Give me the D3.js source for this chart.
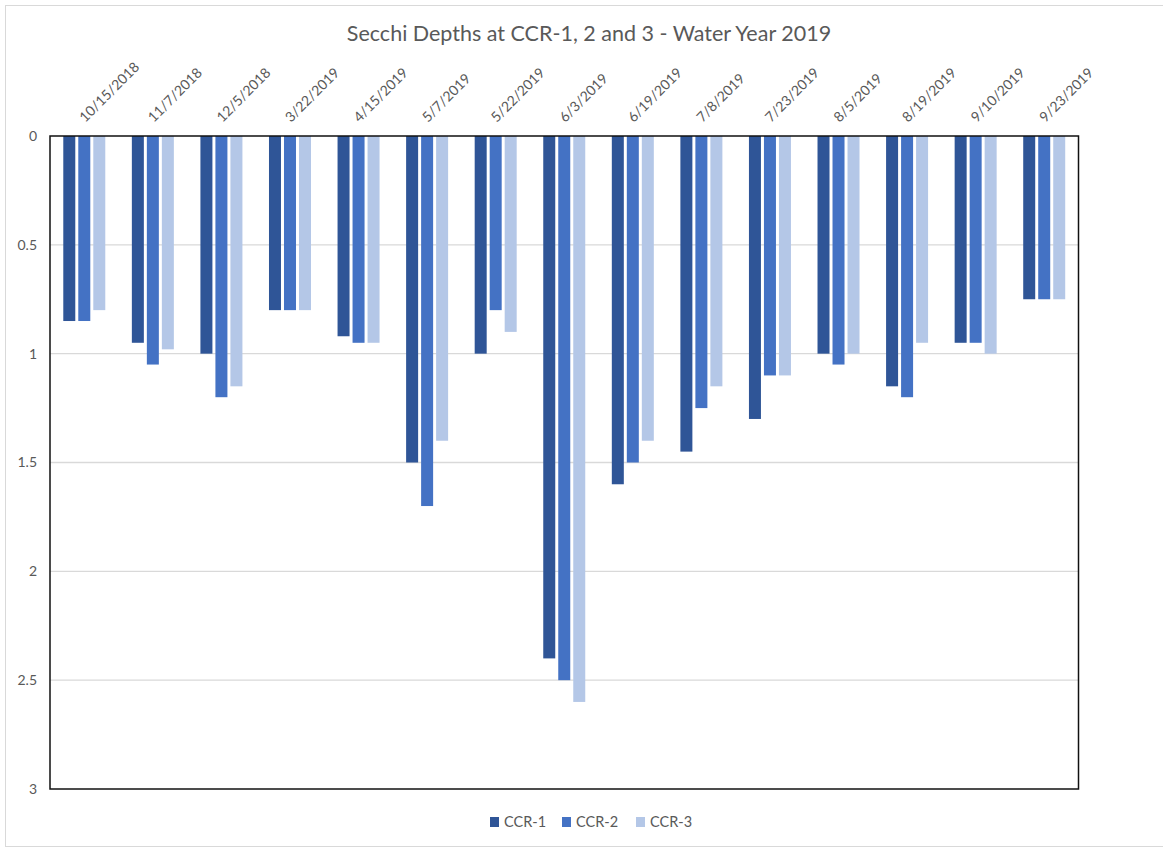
<!DOCTYPE html>
<html>
<head>
<meta charset="utf-8">
<script src="https://cdn.jsdelivr.net/npm/d3@7"></script>
<style>
  html, body { margin: 0; padding: 0; background: #fff; }
  svg { display: block; }
  text { font-family: Lato, "Open Sans", sans-serif; fill: #595959; }
</style>
</head>
<body>
<svg id="chart" width="1163" height="848"></svg>
<script>
const categories = ["10/15/2018","11/7/2018","12/5/2018","3/22/2019","4/15/2019","5/7/2019","5/22/2019","6/3/2019","6/19/2019","7/8/2019","7/23/2019","8/5/2019","8/19/2019","9/10/2019","9/23/2019"];
const seriesNames = ["CCR-1","CCR-2","CCR-3"];
const ccr1 = [0.85,0.95,1.00,0.80,0.92,1.50,1.00,2.40,1.60,1.45,1.30,1.00,1.15,0.95,0.75];
const ccr2 = [0.85,1.05,1.20,0.80,0.95,1.70,0.80,2.50,1.50,1.25,1.10,1.05,1.20,0.95,0.75];
const ccr3 = [0.80,0.98,1.15,0.80,0.95,1.40,0.90,2.60,1.40,1.15,1.10,1.00,0.95,1.00,0.75];
const yTicks = [0,0.5,1,1.5,2,2.5,3];
const colors = ["#2F5597","#4472C4","#B4C7E7"];
const title = "Secchi Depths at CCR-1, 2 and 3 - Water Year 2019";

const seriesValues = [ccr1, ccr2, ccr3];
const svg = d3.select("#chart");

// outer chart border
svg.append("rect").attr("x",5.5).attr("y",5.5).attr("width",1170).attr("height",841)
  .attr("fill","#fff").attr("stroke","#D9D9D9").attr("stroke-width",1);

const L = 50, R = 1078.5, T = 136, B = 789;
const y = d3.scaleLinear().domain([0,3]).range([T,B]);
const x0 = d3.scaleBand().domain(categories).range([L,R]).padding(0);
const x1 = d3.scaleBand().domain(seriesNames).range([0,42]).paddingInner(0.2);
const groupOffset = (x0.bandwidth() - 42) / 2;

// gridlines
svg.append("g").selectAll("line").data(yTicks.filter(d => d > 0 && d < 3)).join("line")
  .attr("x1",L).attr("x2",R).attr("y1",d=>y(d)).attr("y2",d=>y(d))
  .attr("stroke","#D9D9D9").attr("stroke-width",1.3);

// bars
const rows = [];
categories.forEach((c,i) => seriesNames.forEach((s,j) => rows.push({c, s, j, v: seriesValues[j][i]})));
svg.append("g").selectAll("rect").data(rows).join("rect")
  .attr("x", d => x0(d.c) + groupOffset + x1(d.s))
  .attr("y", y(0))
  .attr("width", x1.bandwidth())
  .attr("height", d => y(d.v) - y(0))
  .attr("fill", d => colors[d.j]);

// plot box
svg.append("rect").attr("x",L).attr("y",T).attr("width",R-L).attr("height",B-T)
  .attr("fill","none").attr("stroke","#111").attr("stroke-width",1.5);

// y axis labels
const yAxis = d3.axisLeft(y).tickValues(yTicks).tickSize(0).tickPadding(0).tickFormat(d3.format("~g"));
const yg = svg.append("g").attr("transform",`translate(${L-13},0)`).call(yAxis);
yg.select(".domain").remove();
yg.selectAll("text").attr("font-size","14px").attr("fill","#595959").style("font-family","Lato, sans-serif");

// x axis labels (top, rotated)
svg.append("g").selectAll("text").data(categories).join("text")
  .attr("transform", d => `translate(${x0(d) + x0.bandwidth()/2 + 1},${T-13}) rotate(-45)`)
  .attr("text-anchor","start")
  .attr("font-size","14px")
  .text(d => d);

// title
svg.append("text").attr("x",589).attr("y",41).attr("text-anchor","middle")
  .attr("font-size","21.5px").text(title);

// legend
const legendX = [490, 562, 636];
const lg = svg.append("g");
seriesNames.forEach((s,j) => {
  lg.append("rect").attr("x",legendX[j]).attr("y",817).attr("width",9).attr("height",10).attr("fill",colors[j]);
  lg.append("text").attr("x",legendX[j]+14).attr("y",827).attr("font-size","14.5px").text(s);
});
</script>
</body>
</html>
